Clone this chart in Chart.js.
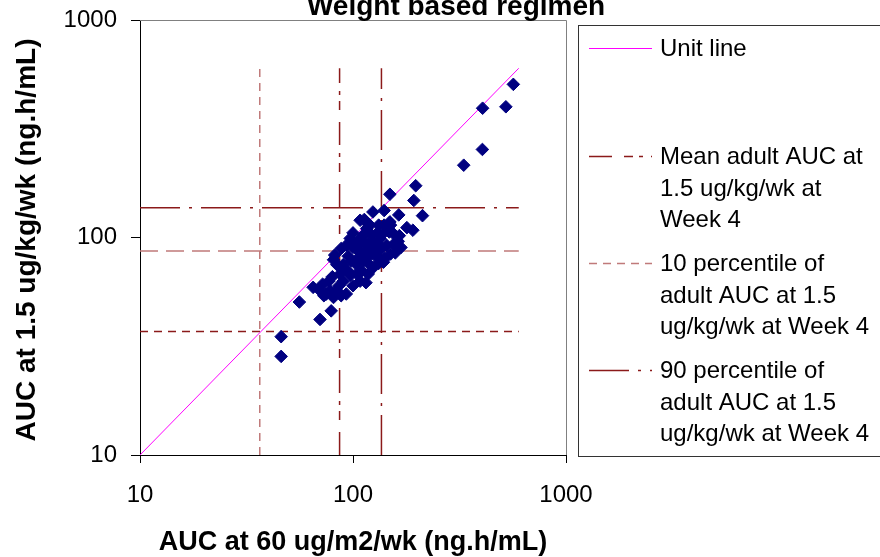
<!DOCTYPE html>
<html>
<head>
<meta charset="utf-8">
<title>Weight based regimen</title>
<script src="https://cdn.jsdelivr.net/npm/chart.js@4.4.1/dist/chart.umd.min.js"></script>
<style>
    html, body { margin: 0; padding: 0; background: #fff; }
    #wrap { width: 880px; height: 557px; }
</style>
</head>
<body>
<div id="wrap"><canvas id="aucChart" width="880" height="557"></canvas></div>
<script>
// ========================================
// 데이터 (ng.h/mL)
// ========================================

// x: AUC at 60 ug/m2/wk, y: AUC at 1.5 ug/kg/wk
const aucBsa = [
    566, 406, 522, 405, 331, 197, 149, 193, 164, 212, 179, 191, 124, 140, 113,
    81, 65, 56, 70, 79, 46, 46, 155,
    148, 163, 158, 139, 118, 108, 93, 81, 73, 93, 100, 122, 129, 104, 87, 77,
    70, 116, 134, 108, 90, 97, 116, 144, 84, 95, 112, 125, 149, 132, 141, 100,
    84, 78, 108, 97, 88, 82,
    100, 110, 120, 105, 90, 115, 125, 95, 130, 118, 105, 112, 98, 128, 135,
    120, 140, 150, 112, 138, 165, 105, 118, 132, 155, 168, 108, 122, 150,
    90, 118, 132, 80, 104, 110, 72, 86, 115, 75, 88
];
const aucWeight = [
    506, 393, 399, 254, 215, 173, 158, 148, 127, 126, 111, 108, 131, 133, 121,
    79, 59, 50.5, 42, 46, 35, 28.4, 104,
    106, 96, 85, 77, 68, 63, 55, 53, 54, 92, 105, 103, 89, 75, 68, 63,
    57, 110, 99, 85, 63, 67, 82, 92, 75, 82, 96, 73, 118, 114, 80, 60,
    57, 57, 120, 99, 89, 83,
    90, 100, 90, 80, 75, 88, 95, 70, 105, 115, 95, 78, 78, 82, 88,
    114, 114, 114, 103, 104, 102, 92, 94, 93, 93, 90, 86, 84, 84,
    72, 76, 76, 66, 68, 70, 61, 60, 62, 55, 54
];

const axisTicks = [10, 100, 1000];
const unitLine = [10, 600];
const lineSpan = [10, 600];

// 성인 AUC 기준선: 10 percentile, mean, 90 percentile
const refVertical = [36.5, 86.5, 136];
const refHorizontal = [37, 86.7, 137];

const chartTitle = 'Weight based regimen';
const xTitle = 'AUC at 60 ug/m2/wk (ng.h/mL)';
const yTitle = 'AUC at 1.5 ug/kg/wk (ng.h/mL)';
const legendText = [
    ['Unit line'],
    ['Mean adult AUC at', '1.5 ug/kg/wk at', 'Week 4'],
    ['10 percentile of', 'adult AUC at 1.5', 'ug/kg/wk at Week 4'],
    ['90 percentile of', 'adult AUC at 1.5', 'ug/kg/wk at Week 4']
];

// ========================================
// 스타일
// ========================================
const FONT = '"Liberation Sans", Arial, sans-serif';
const NAVY = '#000080';
const MAGENTA = '#FF00FF';
const DARK_RED = '#8B1A1A';
const ROSY = '#C07A7A';

const DASH_MEAN = [23, 12, 9, 6, 4, 8];
const DASH_P10 = [8, 6];
const DASH_P90 = [40, 9, 3, 9];
const DASH_SHORT = [8, 6];
const DASH_LONG = [18, 8];

const vStyles = [
    { color: ROSY, dash: DASH_P10 },
    { color: DARK_RED, dash: DASH_MEAN },
    { color: DARK_RED, dash: DASH_P90 }
];
const hStyles = [
    { color: DARK_RED, dash: DASH_SHORT },
    { color: ROSY, dash: DASH_LONG },
    { color: DARK_RED, dash: DASH_P90 }
];
const legendStyles = [
    { color: MAGENTA, dash: [] },
    { color: DARK_RED, dash: DASH_MEAN },
    { color: ROSY, dash: DASH_P10 },
    { color: DARK_RED, dash: DASH_P90 }
];
const legendSampleY = [48, 156, 263, 370];

// ========================================
// 데이터셋 구성
// ========================================
const scatterPoints = aucBsa.map((x, i) => ({ x: x, y: aucWeight[i] }));

function refLine(points, style) {
    return {
        type: 'line',
        data: points,
        borderColor: style.color,
        borderDash: style.dash,
        borderWidth: 1.5,
        pointRadius: 0,
        fill: false,
        tension: 0
    };
}

const datasets = [{
    type: 'scatter',
    label: 'AUC',
    data: scatterPoints,
    pointStyle: 'rectRot',
    pointRadius: 6.3,
    pointBackgroundColor: NAVY,
    pointBorderColor: NAVY,
    pointBorderWidth: 1
}, {
    type: 'line',
    label: 'Unit line',
    data: unitLine.map(v => ({ x: v, y: v })),
    borderColor: MAGENTA,
    borderWidth: 1,
    pointRadius: 0,
    fill: false
}];

refVertical.forEach((v, i) => {
    datasets.push(refLine(lineSpan.map(y => ({ x: v, y: y })), vStyles[i]));
});
refHorizontal.forEach((v, i) => {
    datasets.push(refLine(lineSpan.map(x => ({ x: x, y: v })), hStyles[i]));
});

// ========================================
// 제목, 범례, 테두리 그리기
// ========================================
const decorPlugin = {
    id: 'decor',
    beforeDatasetsDraw(chart) {
        const { ctx, chartArea: a } = chart;
        ctx.save();
        ctx.strokeStyle = '#808080';
        ctx.lineWidth = 1;
        ctx.beginPath();
        ctx.moveTo(a.left, Math.round(a.top) + 0.5);
        ctx.lineTo(Math.round(a.right) + 0.5, Math.round(a.top) + 0.5);
        ctx.lineTo(Math.round(a.right) + 0.5, a.bottom);
        ctx.stroke();
        ctx.restore();
    },
    afterDraw(chart) {
        const ctx = chart.ctx;
        ctx.save();
        ctx.fillStyle = '#000';
        ctx.textAlign = 'center';
        ctx.textBaseline = 'alphabetic';

        ctx.font = 'bold 28px ' + FONT;
        ctx.fillText(chartTitle, 456, 15);

        ctx.font = 'bold 27px ' + FONT;
        ctx.fillText(xTitle, 353, 550);

        ctx.save();
        ctx.translate(35, 240);
        ctx.rotate(-Math.PI / 2);
        ctx.font = 'bold 28px ' + FONT;
        ctx.fillText(yTitle, 0, 0);
        ctx.restore();

        // 범례
        ctx.strokeStyle = '#333';
        ctx.lineWidth = 1;
        ctx.strokeRect(578.5, 25.5, 400, 431);

        ctx.textAlign = 'left';
        ctx.font = '24px ' + FONT;
        legendText.forEach((lines, i) => {
            const sy = legendSampleY[i];
            ctx.strokeStyle = legendStyles[i].color;
            ctx.setLineDash(legendStyles[i].dash);
            ctx.lineWidth = i === 0 ? 1 : 1.5;
            ctx.beginPath();
            ctx.moveTo(589, sy + 0.5);
            ctx.lineTo(652, sy + 0.5);
            ctx.stroke();
            ctx.setLineDash([]);
            lines.forEach((t, j) => {
                ctx.fillText(t, 660, sy + 8 + j * 31.5);
            });
        });
        ctx.restore();
    }
};

// ========================================
// 차트 생성
// ========================================
function logAxis(position, size) {
    return {
        type: 'logarithmic',
        position: position,
        min: 10,
        max: 1000,
        afterBuildTicks: scale => {
            scale.ticks = axisTicks.map(v => ({ value: v }));
        },
        afterFit: scale => {
            if (position === 'left') {
                scale.width = size;
                scale.paddingTop = 0;
                scale.paddingBottom = 0;
            } else {
                scale.height = size;
                scale.paddingLeft = 0;
                scale.paddingRight = 0;
            }
        },
        grid: {
            drawOnChartArea: false,
            drawTicks: true,
            tickLength: position === 'left' ? 9 : 8,
            color: '#000'
        },
        border: { display: true, color: '#000', width: 1 },
        ticks: {
            color: '#000',
            font: { family: FONT, size: 24 },
            padding: position === 'left' ? 14 : 18,
            maxRotation: 0,
            autoSkip: false,
            callback: value => String(value)
        }
    };
}

new Chart(document.getElementById('aucChart'), {
    type: 'scatter',
    data: { datasets: datasets },
    options: {
        responsive: false,
        animation: false,
        layout: { padding: { left: 0, right: 314, top: 20, bottom: 0 } },
        plugins: {
            legend: { display: false },
            title: { display: false },
            tooltip: { enabled: false }
        },
        scales: {
            x: logAxis('bottom', 102),
            y: logAxis('left', 140)
        }
    },
    plugins: [decorPlugin]
});
</script>
</body>
</html>
